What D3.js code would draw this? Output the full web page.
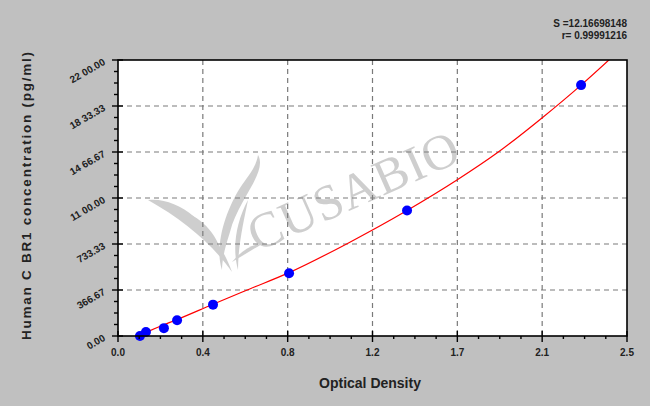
<!DOCTYPE html>
<html><head><meta charset="utf-8">
<script src="https://cdn.jsdelivr.net/npm/d3@7"></script>
<style>
html,body{margin:0;padding:0;background:#c0c0c0;}
svg{display:block;}
</style></head>
<body>
<svg id="chart" width="650" height="406"></svg>
<script>
// ---- data ----
const odValues   = [0.110, 0.140, 0.230, 0.296, 0.476, 0.857, 1.448, 2.320];
const concValues = [0, 31.25, 62.5, 125, 250, 500, 1000, 2000];
// fitted curve
const curveOD   = [0.100, 0.200, 0.300, 0.476, 0.660, 0.857, 1.150, 1.448, 1.700, 1.900, 2.124, 2.320, 2.480];
const curveConc = [0, 70, 134, 253, 375, 505, 738, 1000, 1245, 1460, 1738, 2000, 2230];
const xTickValues = [0, 0.425, 0.85, 1.275, 1.7, 2.125, 2.55];
const xTickLabels = ["0.0", "0.4", "0.8", "1.2", "1.7", "2.1", "2.5"];
const yTickValues = [0, 366.67, 733.33, 1100, 1466.67, 1833.33, 2200];
const yTickLabels = ["0.00", "366.67", "733.33", "11 00.00", "14 66.67", "18 33.33", "22 00.00"];
const statLines = ["S =12.16698148", "r= 0.99991216"];
const xTitle = "Optical Density";
const yTitle = "Human C BR1 concentration (pg/ml)";

// ---- layout ----
const SANS = "'Liberation Sans',Arial,sans-serif";
const svg = d3.select("#chart");
const L = 118, R = 627, T = 60, B = 336;
const x = d3.scaleLinear().domain([0, 2.55]).range([L, R]);
const y = d3.scaleLinear().domain([0, 2200]).range([B, T]);

svg.append("rect").attr("width", 650).attr("height", 406).attr("fill", "#c0c0c0");
svg.append("rect").attr("x", L).attr("y", T).attr("width", R - L).attr("height", B - T).attr("fill", "#fff");

// grid
const grid = svg.append("g").attr("stroke", "#7a7a7a").attr("stroke-width", 1.2).attr("stroke-dasharray", "5,4");
grid.selectAll(".vg").data(xTickValues.slice(1, -1)).join("line")
  .attr("x1", d => x(d)).attr("x2", d => x(d)).attr("y1", T).attr("y2", B);
grid.selectAll(".hg").data(yTickValues.slice(1, -1)).join("line")
  .attr("x1", L).attr("x2", R).attr("y1", d => y(d)).attr("y2", d => y(d));

// watermark
const wm = svg.append("g").attr("opacity", 0.38);
wm.append("text").attr("transform", "translate(257,252) rotate(-24)")
  .style("font-family", "'Liberation Serif','DejaVu Serif',serif")
  .style("font-size", "50px").attr("fill", "#808080").attr("letter-spacing", 1).text("CUSABIO");
const logo = wm.append("g").attr("fill", "#808080");
logo.append("path").attr("d", "M148,200 C182,196 218,232 232,272 C214,246 184,220 148,200 Z");
logo.append("path").attr("d", "M170,210 C192,210 212,226 220,248 C204,234 188,222 170,210 Z");
logo.append("path").attr("d", "M258,155 C268,172 238,200 230,232 C224,250 222,262 222,270 C214,246 226,210 240,188 C248,176 256,168 258,155 Z");
logo.append("path").attr("d", "M248,200 C244,220 238,245 238,270 C232,248 236,222 248,200 Z");
logo.append("path").attr("d", "M232,262 C242,250 252,244 262,244 C252,250 242,256 232,262 Z");

// fitted curve (clipped)
svg.append("clipPath").attr("id", "pc").append("rect").attr("x", L).attr("y", T).attr("width", R - L).attr("height", B - T);
const line = d3.line().x(d => x(d[0])).y(d => y(d[1])).curve(d3.curveMonotoneX);
svg.append("path").datum(curveOD.map((d, i) => [d, curveConc[i]]))
  .attr("clip-path", "url(#pc)")
  .attr("d", line).attr("fill", "none").attr("stroke", "#ff0000").attr("stroke-width", 1.2);

// points
svg.append("g").selectAll("circle").data(odValues.map((d, i) => [d, concValues[i]])).join("circle")
  .attr("cx", d => x(d[0])).attr("cy", d => y(d[1])).attr("r", 5).attr("fill", "#0000ff");

// frame
svg.append("rect").attr("x", L).attr("y", T).attr("width", R - L).attr("height", B - T)
  .attr("fill", "none").attr("stroke", "#000").attr("stroke-width", 1.6);

// x axis ticks
const xMinor = [];
for (let i = 0; i < xTickValues.length - 1; i++) for (let k = 1; k < 4; k++) xMinor.push(xTickValues[i] + (xTickValues[i + 1] - xTickValues[i]) * k / 4);
const xa = svg.append("g").attr("stroke", "#000").attr("stroke-width", 1.4);
xa.selectAll(".mj").data(xTickValues).join("line").attr("x1", d => x(d)).attr("x2", d => x(d)).attr("y1", B - 5).attr("y2", B + 6);
xa.selectAll(".mn").data(xMinor).join("line").attr("x1", d => x(d)).attr("x2", d => x(d)).attr("y1", B).attr("y2", B + 3);
svg.append("g").selectAll("text").data(xTickValues).join("text")
  .attr("x", d => x(d)).attr("y", 356).attr("text-anchor", "middle")
  .style("font-family", SANS).style("font-size", "10px").style("font-weight", "bold").attr("fill", "#222")
  .text((d, i) => xTickLabels[i]);

// y axis ticks
const yMinor = [];
for (let i = 0; i < yTickValues.length - 1; i++) for (let k = 1; k < 4; k++) yMinor.push(yTickValues[i] + (yTickValues[i + 1] - yTickValues[i]) * k / 4);
const ya = svg.append("g").attr("stroke", "#000").attr("stroke-width", 1.4);
ya.selectAll(".mj").data(yTickValues).join("line").attr("x1", L - 6).attr("x2", L + 5).attr("y1", d => y(d)).attr("y2", d => y(d));
ya.selectAll(".mn").data(yMinor).join("line").attr("x1", L - 4).attr("x2", L).attr("y1", d => y(d)).attr("y2", d => y(d));
svg.append("g").selectAll("text").data(yTickValues).join("text")
  .attr("transform", d => `translate(106,${y(d) + 4}) rotate(-30)`).attr("text-anchor", "end")
  .style("font-family", SANS).style("font-size", "10px").style("font-weight", "bold").attr("fill", "#222")
  .text((d, i) => yTickLabels[i]);

// titles
svg.append("text").attr("x", 370).attr("y", 388).attr("text-anchor", "middle")
  .style("font-family", SANS).style("font-size", "14px").style("font-weight", "bold").attr("fill", "#222").text(xTitle);
svg.append("text").attr("transform", "translate(31,196) rotate(-90)").attr("text-anchor", "middle")
  .style("font-family", SANS).style("font-size", "13.5px").style("font-weight", "bold").attr("fill", "#222")
  .attr("textLength", 288).attr("lengthAdjust", "spacing").text(yTitle);

// stats
svg.append("g").selectAll("text").data(statLines).join("text")
  .attr("x", 627).attr("y", (d, i) => 27 + i * 12).attr("text-anchor", "end")
  .style("font-family", SANS).style("font-size", "10px").style("font-weight", "bold").attr("fill", "#222").text(d => d);
</script>
</body></html>
